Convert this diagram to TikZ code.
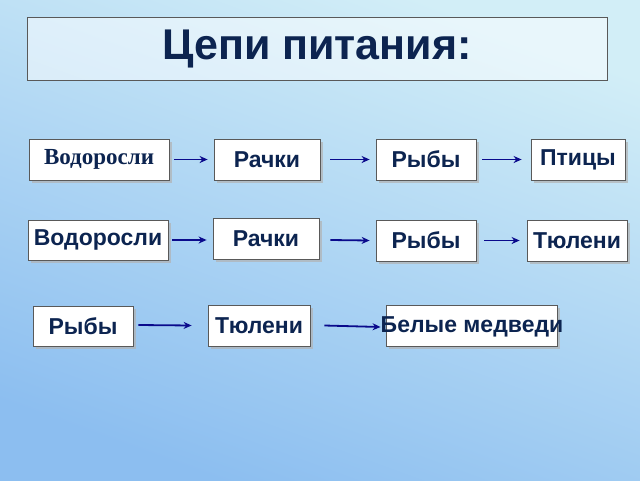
\documentclass[tikz,border=0pt]{standalone}
\usepackage{fontspec}
\setmainfont{Liberation Sans}
\newfontfamily\serifb{Liberation Serif}
\usetikzlibrary{shadows,arrows.meta}
\definecolor{bgA}{RGB}{210,238,247}
\definecolor{bgB}{RGB}{140,190,240}
\definecolor{ink}{RGB}{12,36,80}
\definecolor{arr}{RGB}{10,10,140}
\begin{document}
\begin{tikzpicture}[x=1pt,y=-1pt,
  box/.style={draw=gray!70!black,fill=white,line width=0.8pt,inner sep=0pt,
    text=ink,font=\bfseries\fontsize{23}{26}\selectfont,
    drop shadow={shadow xshift=3pt,shadow yshift=-3pt,fill=gray!60,opacity=0.7}},
  ar/.style={draw=arr,line width=1.8pt,-{Stealth[length=8pt,width=7pt]}}]
\useasboundingbox (0,0) rectangle (640,480);
\shade[top color=bgA,bottom color=bgB,shading angle=-20] (0,0) rectangle (640,480);
\node[draw=gray!70!black,fill=white,fill opacity=0.5,text opacity=1,line width=0.8pt,
  minimum width=580pt,minimum height=63pt,text=ink,font=\bfseries\fontsize{43}{46}\selectfont] (t) at (317,48.5) {Цепи питания:};
% row 1
\node[box,minimum width=140pt,minimum height=41pt,font=\serifb\bfseries\fontsize{23}{26}\selectfont] (a1) at (99,159.5) {Водоросли};
\node[box,minimum width=106pt,minimum height=41pt] (b1) at (267,159.5) {Рачки};
\node[box,minimum width=100pt,minimum height=41pt] (c1) at (426,159.5) {Рыбы};
\node[box,minimum width=94pt,minimum height=41pt] (d1) at (578,159.5) {Птицы};
% row 2
\node[box,minimum width=140pt,minimum height=40pt] (a2) at (98,240) {Водоросли};
\node[box,minimum width=106pt,minimum height=41pt] (b2) at (266,238.5) {Рачки};
\node[box,minimum width=100pt,minimum height=41pt] (c2) at (426,240.5) {Рыбы};
\node[box,minimum width=100pt,minimum height=41pt] (d2) at (577,240.5) {Тюлени};
% row 3
\node[box,minimum width=100pt,minimum height=40pt] (a3) at (83,326) {Рыбы};
\node[box,minimum width=102pt,minimum height=41pt] (b3) at (259,325.5) {Тюлени};
\node[box,minimum width=171pt,minimum height=41pt] (c3) at (471.5,325.5) {};
\node[text=ink,font=\bfseries\fontsize{23}{26}\selectfont,inner sep=0pt] (c3t) at (472,327) {Белые медведи};
% arrows
\draw[ar] (a1.east)++(5,0) -- ([xshift=-6pt]b1.west);
\draw[ar] (b1.east)++(10,0) -- ([xshift=-6pt]c1.west);
\draw[ar] (c1.east)++(6,0) -- ([xshift=-9pt]d1.west);
\draw[ar] (a2.east)++(4,0) -- ([xshift=-6pt]b2.west |- a2.east);
\draw[ar] (b2.east)++(11,1.5) -- ([xshift=-6pt]c2.west);
\draw[ar] (c2.east)++(8,0) -- ([xshift=-7pt]d2.west);
\draw[ar] (a3.east)++(5,-1) -- ([xshift=-16pt]b3.west);
\draw[ar] (b3.east)++(14,0) -- (c3t.west);
\end{tikzpicture}
\end{document}
